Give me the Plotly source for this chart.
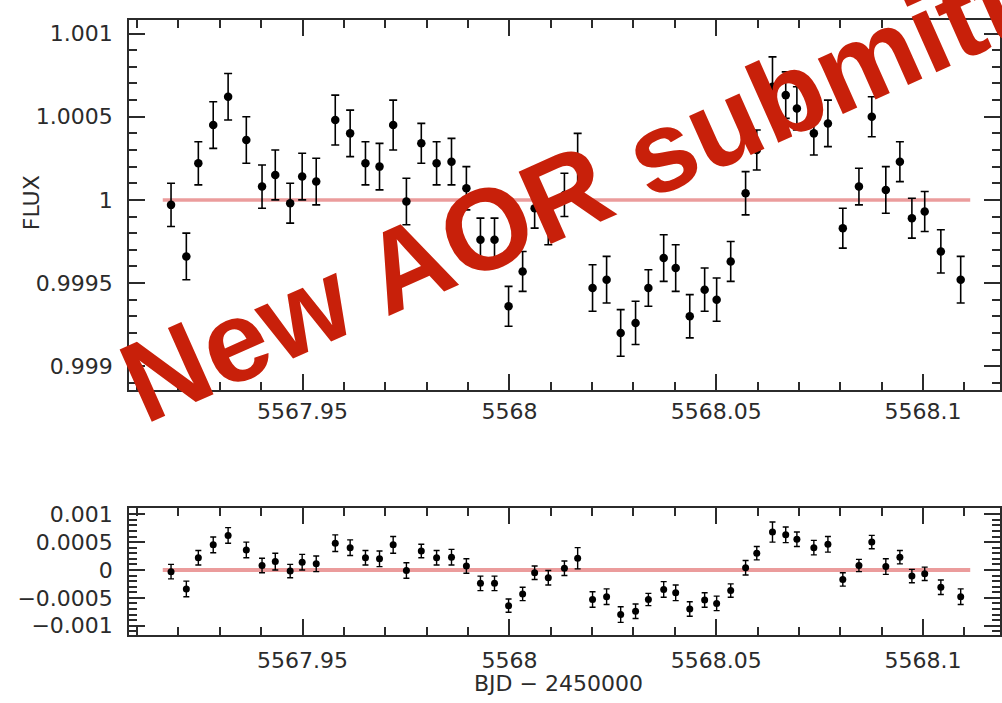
import plotly.graph_objects as go

# ---------------- data ----------------
bjd = [5567.9182, 5567.9219, 5567.9248, 5567.9284, 5567.9320, 5567.9364, 5567.9402,
       5567.9434, 5567.9470, 5567.9499, 5567.9533, 5567.9579, 5567.9615, 5567.9652,
       5567.9686, 5567.9719, 5567.9751, 5567.9787, 5567.9824, 5567.9860, 5567.9896,
       5567.9930, 5567.9964, 5567.9998, 5568.0032, 5568.0061, 5568.0094, 5568.0133,
       5568.0165, 5568.0201, 5568.0235, 5568.0269, 5568.0305, 5568.0336, 5568.0373,
       5568.0402, 5568.0436, 5568.0472, 5568.0501, 5568.0535, 5568.0571, 5568.0598,
       5568.0636, 5568.0668, 5568.0695, 5568.0736, 5568.0770, 5568.0806, 5568.0845,
       5568.0876, 5568.0910, 5568.0944, 5568.0973, 5568.1004, 5568.1043, 5568.1091]

flux = [0.99997, 0.99966, 1.00022, 1.00045, 1.00062, 1.00036, 1.00008,
        1.00015, 0.99998, 1.00014, 1.00011, 1.00048, 1.00040, 1.00022,
        1.00020, 1.00045, 0.99999, 1.00034, 1.00022, 1.00023, 1.00007,
        0.99976, 0.99976, 0.99936, 0.99957, 0.99995, 0.99986, 1.00003,
        1.00021, 0.99947, 0.99952, 0.99920, 0.99926, 0.99947, 0.99965,
        0.99959, 0.99930, 0.99946, 0.99940, 0.99963, 1.00004, 1.00030,
        1.00068, 1.00063, 1.00055, 1.00040, 1.00046, 0.99983, 1.00008,
        1.00050, 1.00006, 1.00023, 0.99989, 0.99993, 0.99969, 0.99952]

flux_err = [0.00013, 0.00014, 0.00013, 0.00014, 0.00014, 0.00014, 0.00013,
            0.00015, 0.00012, 0.00014, 0.00014, 0.00015, 0.00014, 0.00013,
            0.00014, 0.00015, 0.00014, 0.00012, 0.00013, 0.00014, 0.00013,
            0.00013, 0.00013, 0.00012, 0.00012, 0.00012, 0.00013, 0.00013,
            0.00019, 0.00014, 0.00014, 0.00014, 0.00013, 0.00011, 0.00014,
            0.00014, 0.00013, 0.00013, 0.00013, 0.00012, 0.00013, 0.00012,
            0.00018, 0.00014, 0.00013, 0.00013, 0.00014, 0.00012, 0.00011,
            0.00012, 0.00014, 0.00012, 0.00012, 0.00012, 0.00013, 0.00014]

resid = [-0.00003, -0.00034, 0.00022, 0.00045, 0.00062, 0.00036, 0.00008,
         0.00015, -0.00002, 0.00014, 0.00011, 0.00048, 0.00040, 0.00022,
         0.00020, 0.00045, -0.00001, 0.00034, 0.00022, 0.00023, 0.00007,
         -0.00024, -0.00024, -0.00064, -0.00043, -0.00005, -0.00014, 0.00003,
         0.00021, -0.00053, -0.00048, -0.00080, -0.00074, -0.00053, -0.00035,
         -0.00041, -0.00070, -0.00054, -0.00060, -0.00037, 0.00004, 0.00030,
         0.00068, 0.00063, 0.00055, 0.00040, 0.00046, -0.00017, 0.00008,
         0.00050, 0.00006, 0.00023, -0.00011, -0.00007, -0.00031, -0.00048]

model_bjd = [5567.9162, 5568.1114]
model_flux = [1.0, 1.0]
model_resid = [0.0, 0.0]

x_tickvals = [5567.95, 5568.0, 5568.05, 5568.1]
x_ticktext = ["5567.95", "5568", "5568.05", "5568.1"]
flux_tickvals = [0.999, 0.9995, 1.0, 1.0005, 1.001]
flux_ticktext = ["0.999", "0.9995", "1", "1.0005", "1.001"]
res_tickvals = [-0.001, -0.0005, 0.0, 0.0005, 0.001]
res_ticktext = ["\u22120.001", "\u22120.0005", "0", "0.0005", "0.001"]

# ---------------- figure ----------------
INK = "#2b2b2b"
MODEL = "rgba(222, 90, 90, 0.6)"

fig = go.Figure()

fig.add_trace(go.Scatter(x=model_bjd, y=model_flux, mode="lines",
                         line=dict(color=MODEL, width=3.5),
                         xaxis="x", yaxis="y", hoverinfo="skip"))
fig.add_trace(go.Scatter(x=bjd, y=flux, mode="markers",
                         marker=dict(color="black", size=8.5, line=dict(width=0)),
                         error_y=dict(type="data", array=flux_err, color="black",
                                      thickness=1.6, width=4),
                         xaxis="x", yaxis="y"))

fig.add_trace(go.Scatter(x=model_bjd, y=model_resid, mode="lines",
                         line=dict(color=MODEL, width=4),
                         xaxis="x2", yaxis="y2", hoverinfo="skip"))
fig.add_trace(go.Scatter(x=bjd, y=resid, mode="markers",
                         marker=dict(color="black", size=7, line=dict(width=0)),
                         error_y=dict(type="data", array=flux_err, color="black",
                                      thickness=1.4, width=3),
                         xaxis="x2", yaxis="y2"))

tickfont = dict(family="DejaVu Sans", size=22, color=INK)

def axis_style(minor_dtick, tickvals, ticktext, standoff):
    return dict(
        showline=True, linecolor=INK, linewidth=2, mirror="allticks",
        ticks="inside", ticklen=16, tickwidth=1.5, tickcolor=INK,
        tickmode="array", tickvals=tickvals, ticktext=ticktext,
        tickfont=tickfont, ticklabelstandoff=standoff,
        showgrid=False, zeroline=False, fixedrange=True,
        minor=dict(ticks="inside", ticklen=8, tickwidth=1.5, tickcolor=INK,
                   dtick=minor_dtick, showgrid=False),
    )

x_dom = [0.129, 0.998]
x_rng = [5567.9081, 5568.1186]

fig.update_layout(
    width=1002, height=703,
    margin=dict(l=0, r=0, t=0, b=0),
    paper_bgcolor="white", plot_bgcolor="white",
    showlegend=False,
    xaxis=dict(domain=x_dom, range=x_rng, anchor="y",
               **axis_style(0.01, x_tickvals, x_ticktext, 1)),
    yaxis=dict(domain=[0.4462, 0.9801], range=[0.998858, 1.001083], anchor="x",
               **axis_style(0.0001, flux_tickvals, flux_ticktext, 10)),
    xaxis2=dict(domain=x_dom, range=x_rng, anchor="y2",
                **axis_style(0.01, x_tickvals, x_ticktext, 5)),
    yaxis2=dict(domain=[0.0929, 0.2755], range=[-0.00116, 0.00111], anchor="x2",
                **axis_style(0.0001, res_tickvals, res_ticktext, 10)),
)

fig.add_annotation(text="FLUX", xref="paper", yref="paper", x=0.031, y=0.7155,
                   xanchor="center", yanchor="middle",
                   textangle=-90, showarrow=False,
                   font=dict(family="DejaVu Sans", size=22, color=INK))
fig.add_annotation(text="BJD \u2212 2450000", xref="paper", yref="paper",
                   x=0.557, y=0.0228, xanchor="center", yanchor="middle",
                   showarrow=False,
                   font=dict(family="DejaVu Sans", size=22, color=INK))

fig.add_annotation(text="New AOR submitted", xref="paper", yref="paper",
                   x=0.6307, y=0.7717, xanchor="center", yanchor="middle",
                   textangle=-24, showarrow=False,
                   font=dict(family="Liberation Sans", size=115, color="#c8200a",
                             weight="bold"))

fig.write_html("out.html")
